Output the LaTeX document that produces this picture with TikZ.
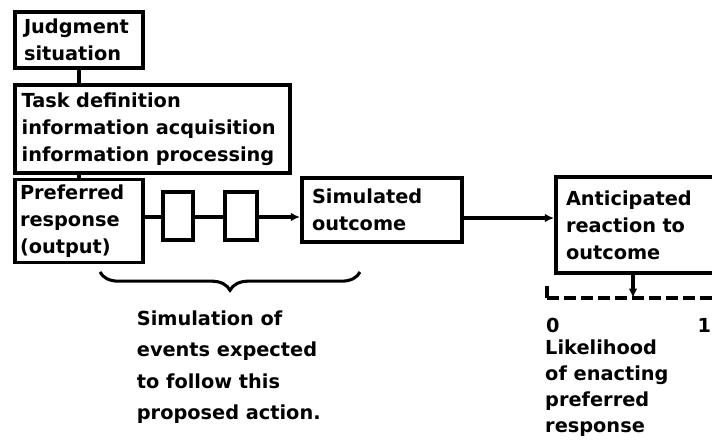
\documentclass[tikz,border=0pt]{standalone}
\usepackage{fontspec}
\setmainfont{DejaVu Sans}
\usetikzlibrary{arrows.meta,positioning,decorations.pathreplacing}

\begin{document}
\begin{tikzpicture}[
  txt/.style={font=\fontsize{16.5}{23}\selectfont\bfseries,align=left,inner sep=0pt},
  box/.style={draw,line width=3.2pt,txt,inner sep=0.2cm},
  link/.style={line width=2.6pt},
  arr/.style={link,-{Latex[length=0.28cm,width=0.26cm]}}]
  \useasboundingbox (0,0) rectangle (21.36,-13.23);
  % boxes
  \node[box,minimum width=3.84cm,minimum height=1.68cm,text width=3.3cm] (judg) at (2.37,-1.2) {Judgment\\situation};
  \node[box,minimum width=8.25cm,minimum height=2.64cm,text width=7.85cm] (task) at (4.575,-3.87) {Task definition\\information acquisition\\information processing};
  \node[box,minimum width=3.84cm,minimum height=2.49cm,text width=3.54cm,inner sep=0.15cm] (pref) at (2.37,-6.63) {Preferred\\response\\(output)};
  \node[draw,link,minimum width=0.9cm,minimum height=1.44cm] (ev1) at (5.34,-6.48) {};
  \node[draw,link,minimum width=0.96cm,minimum height=1.44cm] (ev2) at (7.23,-6.48) {};
  \node[box,minimum width=4.8cm,minimum height=1.92cm,text width=4.2cm,inner sep=0.3cm] (sim) at (11.46,-6.3) {Simulated\\outcome};
  \node[box,minimum width=5.4cm,minimum height=2.88cm,text width=4.8cm,inner sep=0.3cm] (ant) at (19.38,-6.75) {Anticipated\\reaction to\\outcome};
  % connectors
  \draw[link] (judg.south) -- (judg.south |- task.north);
  \draw[link] (pref.north) -- (pref.north |- task.south);
  \coordinate (row) at (0,-6.51);
  \draw[link] (pref.east |- row) -- (ev1.west |- row);
  \draw[link] (ev1.east |- row) -- (ev2.west |- row);
  \draw[arr] (ev2.east |- row) -- (sim.west |- row);
  \coordinate (row2) at (0,-6.54);
  \draw[arr] (sim.east |- row2) -- (ant.west |- row2);
  % likelihood scale
  \coordinate (s0) at (16.41,-8.94);
  \coordinate (s1) at (21.5,-8.94);
  \coordinate (mark) at (18.99,-8.94);
  \draw[link,dash pattern=on 0.36cm off 0.15cm] (s0) -- (s1);
  \draw[link] (s0) -- ++(0,0.36);
  \draw[arr] (mark |- ant.south) -- (mark);
  \node[txt,anchor=base west] (zero) at (16.38,-9.96) {0};
  \node[txt,anchor=base west] (one) at (20.92,-9.96) {1};
  \node[txt,anchor=north west,font=\fontsize{16.5}{22}\selectfont\bfseries] (lik) at (16.35,-10.2) {Likelihood\\of enacting\\preferred\\response};
  % simulation brace
  \draw[link,decorate,decoration={brace,mirror,amplitude=0.55cm}] (3.0,-8.16) -- (10.8,-8.16);
  \node[txt,anchor=north west,font=\fontsize{16.5}{26.5}\selectfont\bfseries] (simtxt) at (4.1,-9.33) {Simulation of\\events expected\\to follow this\\proposed action.};
\end{tikzpicture}
\end{document}
